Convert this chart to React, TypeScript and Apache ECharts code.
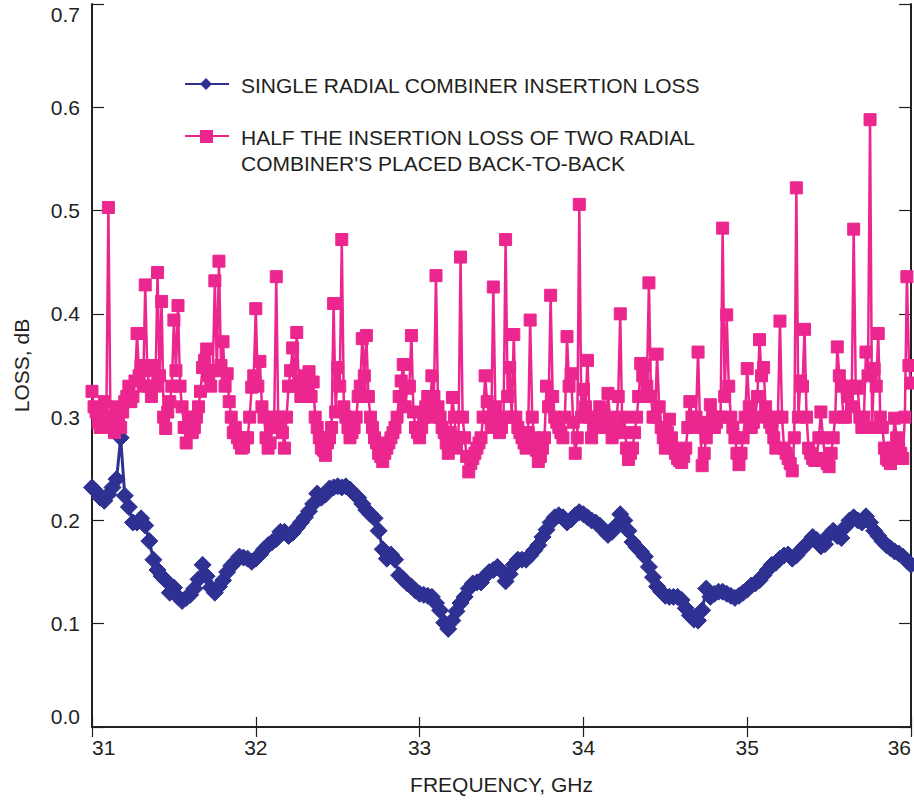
import React, { useEffect, useRef } from "react";
import * as echarts from "echarts";

// Sweep grids (GHz)
const FREQ_START = 31;
const SINGLE_STEP = 0.025;
const HALF_STEP = 0.0125;

const X_MIN = 31;
const X_MAX = 36;
const Y_MIN = 0;
const Y_MAX = 0.7;

const SERIES_NAMES = [
  "SINGLE RADIAL COMBINER INSERTION LOSS",
  "HALF THE INSERTION LOSS OF TWO RADIAL\nCOMBINER'S PLACED BACK-TO-BACK",
];

const SINGLE_LOSS = [
  0.232, 0.228, 0.222, 0.219, 0.225, 0.232, 0.240, 0.280, 0.224, 0.213,
  0.198, 0.198, 0.202, 0.195, 0.180, 0.162, 0.152, 0.146, 0.142, 0.130,
  0.135, 0.126, 0.122, 0.125, 0.128, 0.134, 0.143, 0.157, 0.146, 0.135,
  0.130, 0.136, 0.142, 0.150, 0.156, 0.160, 0.165, 0.164, 0.163, 0.160,
  0.163, 0.167, 0.172, 0.176, 0.179, 0.182, 0.189, 0.189, 0.185, 0.188,
  0.193, 0.198, 0.203, 0.209, 0.216, 0.226, 0.222, 0.225, 0.231, 0.232,
  0.233, 0.232, 0.233, 0.230, 0.226, 0.222, 0.216, 0.210, 0.206, 0.202,
  0.190, 0.172, 0.163, 0.167, 0.162, 0.147, 0.143, 0.139, 0.136, 0.132,
  0.129, 0.128, 0.127, 0.126, 0.120, 0.113, 0.101, 0.095, 0.103, 0.112,
  0.120, 0.126, 0.134, 0.139, 0.140, 0.140, 0.146, 0.150, 0.152, 0.155,
  0.151, 0.141, 0.148, 0.157, 0.162, 0.162, 0.162, 0.166, 0.171, 0.176,
  0.184, 0.191, 0.198, 0.203, 0.205, 0.203, 0.198, 0.201, 0.205, 0.208,
  0.206, 0.203, 0.200, 0.198, 0.195, 0.190, 0.186, 0.189, 0.195, 0.206,
  0.200, 0.190, 0.179, 0.174, 0.170, 0.165, 0.155, 0.145, 0.136, 0.131,
  0.127, 0.126, 0.126, 0.126, 0.123, 0.115, 0.108, 0.104, 0.103, 0.113,
  0.134, 0.126, 0.129, 0.131, 0.131, 0.129, 0.127, 0.125, 0.127, 0.130,
  0.133, 0.137, 0.139, 0.142, 0.147, 0.152, 0.157, 0.159, 0.163, 0.166,
  0.167, 0.163, 0.166, 0.171, 0.175, 0.179, 0.184, 0.181, 0.175, 0.177,
  0.186, 0.190, 0.185, 0.183, 0.194, 0.200, 0.203, 0.200, 0.198, 0.204,
  0.198, 0.190, 0.185, 0.180, 0.176, 0.173, 0.170, 0.168, 0.165, 0.161,
  0.157,
];

const HALF_BACK_TO_BACK_LOSS = [
  0.325, 0.310, 0.305, 0.295, 0.290, 0.305, 0.315, 0.300, 0.503, 0.300, 0.290, 0.285, 0.310, 0.300, 0.290, 0.305, 0.315, 0.320, 0.330, 0.315,
  0.320, 0.335, 0.381, 0.340, 0.350, 0.330, 0.428, 0.345, 0.330, 0.320, 0.350, 0.330, 0.440, 0.340, 0.412, 0.300, 0.289, 0.305, 0.315, 0.330,
  0.394, 0.345, 0.408, 0.330, 0.310, 0.290, 0.275, 0.290, 0.300, 0.285, 0.290, 0.300, 0.310, 0.325, 0.348, 0.355, 0.366, 0.340, 0.330, 0.345,
  0.432, 0.345, 0.451, 0.350, 0.373, 0.330, 0.342, 0.315, 0.300, 0.285, 0.290, 0.280, 0.275, 0.270, 0.271, 0.280, 0.280, 0.300, 0.329, 0.340,
  0.405, 0.330, 0.354, 0.310, 0.300, 0.280, 0.270, 0.275, 0.290, 0.300, 0.436, 0.290, 0.300, 0.285, 0.270, 0.300, 0.330, 0.345, 0.367, 0.330,
  0.382, 0.335, 0.320, 0.325, 0.340, 0.330, 0.344, 0.320, 0.334, 0.300, 0.290, 0.280, 0.270, 0.268, 0.263, 0.275, 0.280, 0.290, 0.410, 0.305,
  0.348, 0.330, 0.472, 0.310, 0.300, 0.290, 0.280, 0.285, 0.290, 0.300, 0.320, 0.330, 0.376, 0.340, 0.379, 0.320, 0.300, 0.290, 0.280, 0.275,
  0.265, 0.262, 0.257, 0.265, 0.270, 0.275, 0.280, 0.285, 0.290, 0.300, 0.320, 0.335, 0.351, 0.310, 0.328, 0.330, 0.379, 0.305, 0.290, 0.285,
  0.280, 0.290, 0.300, 0.310, 0.320, 0.300, 0.340, 0.320, 0.437, 0.310, 0.300, 0.290, 0.285, 0.275, 0.265, 0.285, 0.319, 0.300, 0.270, 0.280,
  0.455, 0.300, 0.280, 0.262, 0.247, 0.255, 0.260, 0.265, 0.270, 0.275, 0.280, 0.300, 0.340, 0.315, 0.300, 0.290, 0.426, 0.310, 0.300, 0.285,
  0.290, 0.300, 0.472, 0.320, 0.348, 0.300, 0.380, 0.300, 0.290, 0.285, 0.280, 0.275, 0.270, 0.285, 0.394, 0.300, 0.280, 0.268, 0.257, 0.262,
  0.270, 0.280, 0.330, 0.310, 0.418, 0.320, 0.300, 0.295, 0.290, 0.285, 0.280, 0.300, 0.378, 0.330, 0.342, 0.295, 0.265, 0.280, 0.506, 0.300,
  0.327, 0.310, 0.355, 0.300, 0.280, 0.290, 0.300, 0.295, 0.310, 0.305, 0.300, 0.290, 0.323, 0.300, 0.280, 0.285, 0.290, 0.320, 0.400, 0.285,
  0.300, 0.270, 0.259, 0.265, 0.270, 0.285, 0.300, 0.320, 0.352, 0.340, 0.350, 0.330, 0.430, 0.320, 0.300, 0.300, 0.361, 0.310, 0.290, 0.280,
  0.270, 0.285, 0.298, 0.280, 0.270, 0.265, 0.260, 0.258, 0.256, 0.262, 0.270, 0.290, 0.315, 0.300, 0.290, 0.300, 0.363, 0.290, 0.253, 0.265,
  0.280, 0.295, 0.312, 0.300, 0.290, 0.295, 0.300, 0.300, 0.483, 0.320, 0.399, 0.330, 0.300, 0.290, 0.280, 0.265, 0.254, 0.265, 0.280, 0.300,
  0.347, 0.310, 0.290, 0.295, 0.300, 0.320, 0.375, 0.340, 0.348, 0.310, 0.300, 0.295, 0.290, 0.280, 0.270, 0.300, 0.393, 0.300, 0.270, 0.265,
  0.260, 0.255, 0.248, 0.280, 0.522, 0.300, 0.335, 0.330, 0.385, 0.300, 0.270, 0.265, 0.260, 0.258, 0.260, 0.280, 0.305, 0.280, 0.260, 0.255,
  0.252, 0.265, 0.280, 0.300, 0.368, 0.340, 0.330, 0.300, 0.300, 0.320, 0.330, 0.310, 0.482, 0.330, 0.328, 0.300, 0.290, 0.300, 0.363, 0.340,
  0.588, 0.290, 0.347, 0.330, 0.381, 0.300, 0.290, 0.270, 0.260, 0.258, 0.255, 0.270, 0.299, 0.280, 0.270, 0.265, 0.260, 0.300, 0.436, 0.350,
  0.333,
];

const BLUE = "#2e3192";
const PINK = "#ec268f";
const INK = "#231f20";
const FONT = '"Liberation Sans", Arial, Helvetica, sans-serif';

export default function App() {
  const ref = useRef<HTMLDivElement>(null);

  useEffect(() => {
    document.body.style.margin = "0";
    if (!ref.current) return;
    const chart = echarts.init(ref.current, null, { renderer: "svg" });

    const toPairs = (vals: number[], step: number) =>
      vals.map((v, i) => [FREQ_START + i * step, v]);

    const axisLine = { show: true, lineStyle: { color: INK, width: 2 } };
    const tickStyle = { color: INK, width: 1.2 };

    const [name1a] = SERIES_NAMES[0].split("\n");
    const [name2a, name2b] = SERIES_NAMES[1].split("\n");

    const legendText = (text: string, y: number) => ({
      type: "text",
      x: 241,
      y,
      style: {
        text,
        fill: INK,
        fontSize: 21,
        fontFamily: FONT,
        verticalAlign: "middle",
      },
    });

    chart.setOption({
      animation: false,
      backgroundColor: "#ffffff",
      textStyle: { fontFamily: FONT },
      grid: { left: 92, right: 3, top: 4, bottom: 74, containLabel: false },
      xAxis: [
        {
          type: "value",
          min: X_MIN,
          max: X_MAX,
          interval: 1,
          position: "bottom",
          name: "FREQUENCY, GHz",
          nameLocation: "middle",
          nameGap: 47,
          nameTextStyle: { fontSize: 21, color: INK, fontFamily: FONT },
          axisLine,
          axisTick: { show: true, inside: true, length: 10, lineStyle: tickStyle },
          axisLabel: {
            fontSize: 21,
            color: INK,
            fontFamily: FONT,
            margin: 10,
            alignMinLabel: "left",
            alignMaxLabel: "right",
          },
          splitLine: { show: false },
        },
        {
          type: "value",
          min: X_MIN,
          max: X_MAX,
          interval: 1,
          position: "top",
          axisLine,
          axisTick: { show: true, inside: true, length: 10, lineStyle: tickStyle },
          axisLabel: { show: false },
          splitLine: { show: false },
        },
      ],
      yAxis: [
        {
          type: "value",
          min: Y_MIN,
          max: Y_MAX,
          interval: 0.1,
          position: "left",
          name: "LOSS, dB",
          nameLocation: "middle",
          nameGap: 60,
          nameTextStyle: { fontSize: 21, color: INK, fontFamily: FONT },
          axisLine,
          axisTick: { show: true, inside: true, length: 12, lineStyle: tickStyle },
          axisLabel: {
            fontSize: 21,
            color: INK,
            fontFamily: FONT,
            margin: 12,
            formatter: (v: number) => v.toFixed(1),
            verticalAlignMaxLabel: "top",
            verticalAlignMinLabel: "bottom",
          },
          splitLine: { show: false },
        },
        {
          type: "value",
          min: Y_MIN,
          max: Y_MAX,
          interval: 0.1,
          position: "right",
          axisLine,
          axisTick: { show: true, inside: true, length: 12, lineStyle: tickStyle },
          axisLabel: { show: false },
          splitLine: { show: false },
        },
      ],
      series: [
        {
          name: SERIES_NAMES[0],
          type: "line",
          xAxisIndex: 0,
          yAxisIndex: 0,
          data: toPairs(SINGLE_LOSS, SINGLE_STEP),
          symbol: "diamond",
          symbolSize: 17,
          showSymbol: true,
          showAllSymbol: true,
          lineStyle: { color: BLUE, width: 3 },
          itemStyle: { color: BLUE, borderColor: BLUE, borderWidth: 1 },
          z: 2,
        },
        {
          name: SERIES_NAMES[1],
          type: "line",
          xAxisIndex: 0,
          yAxisIndex: 0,
          data: toPairs(HALF_BACK_TO_BACK_LOSS, HALF_STEP),
          symbol: "rect",
          symbolSize: 12,
          showSymbol: true,
          showAllSymbol: true,
          lineStyle: { color: PINK, width: 2.5 },
          itemStyle: { color: PINK, borderColor: PINK, borderWidth: 1 },
          z: 3,
        },
      ],
      graphic: [
        {
          type: "line",
          shape: { x1: 185, y1: 84, x2: 229, y2: 84 },
          style: { stroke: BLUE, lineWidth: 2 },
        },
        {
          type: "polygon",
          shape: { points: [[206, 78], [212, 84], [206, 90], [200, 84]] },
          style: { fill: BLUE },
        },
        legendText(name1a, 85),
        {
          type: "line",
          shape: { x1: 185, y1: 136, x2: 229, y2: 136 },
          style: { stroke: PINK, lineWidth: 2 },
        },
        {
          type: "rect",
          shape: { x: 200, y: 130, width: 13, height: 13 },
          style: { fill: PINK },
        },
        legendText(name2a, 137),
        legendText(name2b, 163),
      ],
    });

    return () => chart.dispose();
  }, []);

  return <div ref={ref} style={{ width: 914, height: 801 }} />;
}
